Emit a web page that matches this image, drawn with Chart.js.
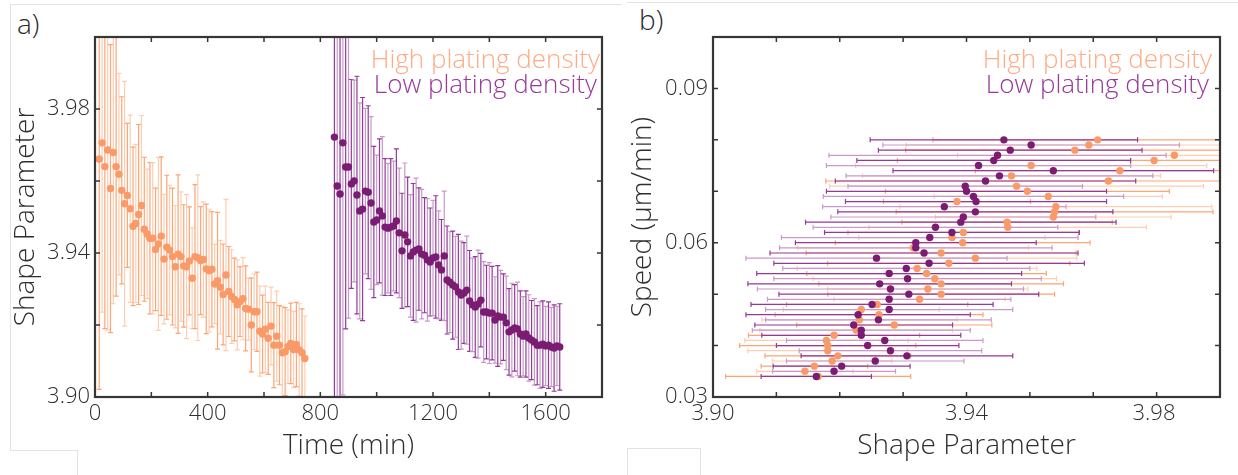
<!DOCTYPE html>
<html>
<head>
<meta charset="utf-8">
<script src="https://cdn.jsdelivr.net/npm/chart.js@4.4.1/dist/chart.umd.min.js"></script>
<style>
  body { margin: 0; width: 1238px; height: 475px; overflow: hidden; background: #fff; position: relative; }
  .edge { position: absolute; border: 0 solid #e3e3e3; box-sizing: border-box; }
  .tag { position: absolute; font: 300 28px 'Open Sans', sans-serif; line-height: 28px; color: #2b2b2b; }
  canvas { position: absolute; top: 0; }
</style>
</head>
<body>
<!-- thin page guides -->
<div class="edge" style="left:10px;top:4px;width:612px;height:447px;border-left-width:1px;border-top-width:1px"></div>
<div class="edge" style="left:10px;top:450px;width:68px;height:25px;border-top-width:1px;border-right-width:1px"></div>
<div class="edge" style="left:627px;top:2px;width:611px;height:2px;border-top-width:1px"></div>
<div class="edge" style="left:627px;top:448px;width:74px;height:27px;border-top-width:1px;border-left-width:1px;border-right-width:1px"></div>

<div class="tag" style="left:17px;top:9px">a)</div>
<div class="tag" style="left:639px;top:5px">b)</div>

<canvas id="timeChart" width="620" height="475" style="left:0"></canvas>
<canvas id="shapeChart" width="618" height="475" style="left:620px"></canvas>

<script>
/******************* panel a: shape parameter vs time *********************/
const highTime = [15,25,35,45,55,65,75,85,95,105,115,125,135,145,155,165,175,185,195,205,
  215,225,235,245,255,265,275,285,295,305,315,325,335,345,355,365,375,385,395,405,
  415,425,435,445,455,465,475,485,495,505,515,525,535,545,555,565,575,585,595,605,
  615,625,635,645,655,665,675,685,695,705,715,725,735,745];
const highShape = [3.9661,3.9706,3.9640,3.9686,3.9579,3.9679,3.9640,3.9619,3.9574,3.9537,
  3.9560,3.9523,3.9474,3.9482,3.9507,3.9532,3.9466,3.9453,3.9441,3.9441,
  3.9410,3.9425,3.9447,3.9383,3.9416,3.9408,3.9390,3.9362,3.9397,3.9390,
  3.9364,3.9362,3.9378,3.9330,3.9390,3.9387,3.9379,3.9382,3.9356,3.9351,
  3.9355,3.9314,3.9323,3.9305,3.9285,3.9339,3.9293,3.9279,3.9271,3.9256,
  3.9265,3.9273,3.9246,3.9244,3.9200,3.9237,3.9237,3.9183,3.9175,3.9188,
  3.9163,3.9197,3.9144,3.9169,3.9144,3.9123,3.9126,3.9140,3.9149,3.9132,
  3.9146,3.9131,3.9123,3.9107];
const highShapeErr = [0.064,0.047,0.045,0.050,0.040,0.042,0.036,0.028,0.026,0.034,
  0.020,0.026,0.022,0.022,0.025,0.025,0.020,0.018,0.021,0.021,
  0.017,0.024,0.022,0.018,0.020,0.018,0.019,0.017,0.022,0.018,
  0.017,0.020,0.015,0.014,0.020,0.023,0.015,0.016,0.018,0.017,
  0.016,0.011,0.019,0.013,0.014,0.021,0.0125,0.013,0.0115,0.0125,
  0.0097,0.0114,0.0118,0.0086,0.013,0.0105,0.011,0.0125,0.0108,0.012,
  0.010,0.0108,0.0118,0.0125,0.011,0.0128,0.0122,0.0102,0.0112,0.0106,
  0.0117,0.0128,0.0122,0.0118];

const lowTime = [850,860,870,880,890,900,910,920,930,940,950,960,970,980,990,1000,1010,1020,1030,1040,
  1050,1060,1070,1080,1090,1100,1110,1120,1130,1140,1150,1160,1170,1180,1190,1200,1210,1220,1230,1240,
  1250,1260,1270,1280,1290,1300,1310,1320,1330,1340,1350,1360,1370,1380,1390,1400,1410,1420,1430,1440,
  1450,1460,1470,1480,1490,1500,1510,1520,1530,1540,1550,1560,1570,1580,1590,1600,1610,1620,1630,1640,1650];
const lowShape = [3.9722,3.9586,3.9564,3.9706,3.9639,3.9639,3.9592,3.9600,3.9561,3.9517,
  3.9522,3.9572,3.9569,3.9539,3.9486,3.9492,3.9517,3.9503,3.9472,3.9469,
  3.9472,3.9475,3.9489,3.9456,3.9406,3.9450,3.9431,3.9392,3.9403,3.9408,
  3.9411,3.9397,3.9394,3.9381,3.9375,3.9386,3.9389,3.9367,3.9353,3.9392,
  3.9325,3.9319,3.9311,3.9306,3.9292,3.9283,3.9289,3.9297,3.9267,3.9256,
  3.9250,3.9258,3.9269,3.9236,3.9236,3.9233,3.9233,3.9214,3.9225,3.9222,
  3.9222,3.9206,3.9181,3.9186,3.9192,3.9189,3.9175,3.9169,3.9175,3.9164,
  3.9158,3.9153,3.9144,3.9144,3.9147,3.9142,3.9144,3.9139,3.9136,3.9142,3.9139];
const lowShapeErr = [0.090,0.080,0.085,0.070,0.045,0.042,0.029,0.028,0.033,0.030,
  0.031,0.023,0.024,0.024,0.021,0.018,0.020,0.022,0.019,0.018,
  0.019,0.018,0.020,0.018,0.016,0.020,0.018,0.017,0.019,0.020,
  0.017,0.018,0.016,0.017,0.015,0.016,0.017,0.015,0.014,0.018,
  0.015,0.014,0.015,0.014,0.016,0.015,0.014,0.015,0.014,0.013,
  0.014,0.015,0.013,0.014,0.013,0.014,0.013,0.012,0.014,0.013,
  0.012,0.013,0.012,0.013,0.012,0.013,0.012,0.011,0.012,0.012,
  0.011,0.012,0.011,0.012,0.012,0.011,0.012,0.011,0.012,0.011,0.012];

/******************* panel b: speed vs shape parameter (binned by speed) *********************/
const speedBins = [0.080,0.079,0.078,0.077,0.076,0.075,0.074,0.073,0.072,0.071,
  0.070,0.069,0.068,0.067,0.066,0.065,0.064,0.063,0.062,0.061,
  0.060,0.059,0.058,0.057,0.056,0.055,0.054,0.053,0.052,0.051,
  0.050,0.049,0.048,0.047,0.046,0.045,0.044,0.043,0.042,0.041,
  0.040,0.039,0.038,0.037,0.036,0.035,0.034];
const highBinShape = [3.9607,3.9593,3.9571,3.9728,3.9696,3.9502,3.9642,3.9471,3.9624,3.9479,
  3.9496,3.9529,3.9385,3.9541,3.9539,3.9537,3.9464,3.9465,3.9395,3.9377,
  3.9394,3.9316,3.9360,3.9414,3.9372,3.9322,3.9337,3.9350,3.9360,3.9339,
  3.9360,3.9326,3.9259,3.9234,3.9262,3.9231,3.9286,3.9226,3.9191,3.9179,
  3.9181,3.9181,3.9197,3.9188,3.9160,3.9145,3.9166];
const highBinSd = [0.0260,0.0288,0.0267,0.0342,0.0405,0.0277,0.0228,0.0235,0.0446,0.0295,
  0.0224,0.0180,0.0116,0.0246,0.0250,0.0186,0.0166,0.0219,0.0182,0.0147,
  0.0201,0.0182,0.0213,0.0160,0.0191,0.0189,0.0189,0.0192,0.0193,0.0158,
  0.0179,0.0135,0.0143,0.0123,0.0164,0.0154,0.0154,0.0152,0.0135,0.0129,
  0.0139,0.0126,0.0115,0.0094,0.0084,0.0076,0.0146];
const lowBinShape = [3.9459,3.9502,3.9469,3.9449,3.9443,3.9419,3.9537,3.9452,3.9430,3.9398,
  3.9400,3.9411,3.9415,3.9365,3.9414,3.9395,3.9391,3.9351,3.9377,3.9342,
  3.9320,3.9320,3.9333,3.9258,3.9341,3.9305,3.9278,3.9307,3.9263,3.9280,
  3.9309,3.9278,3.9251,3.9278,3.9229,3.9261,3.9222,3.9234,3.9234,3.9271,
  3.9244,3.9280,3.9306,3.9256,3.9203,3.9191,3.9163];
const lowBinSd = [0.0211,0.0234,0.0208,0.0266,0.0216,0.0240,0.0253,0.0242,0.0237,0.0185,
  0.0221,0.0237,0.0206,0.0192,0.0217,0.0209,0.0245,0.0193,0.0201,0.0234,
  0.0190,0.0215,0.0243,0.0206,0.0245,0.0195,0.0209,0.0211,0.0208,0.0210,
  0.0205,0.0192,0.0191,0.0195,0.0177,0.0178,0.0156,0.0172,0.0157,0.0155,
  0.0144,0.0144,0.0167,0.0140,0.0108,0.0097,0.0087];

/******************* colours & fonts *********************/
const HIGH = { point: '#f99a68', bars: ['#fca575', '#fecdb2'], text: '#ffab85' };
const LOW  = { point: '#7a1d72', bars: ['#94399a', '#c79ac9'], text: '#97399a' };
const FONT = "'Open Sans', sans-serif";
const INK = '#2e2e2e';

/******************* plugins *********************/
// error bars drawn under the points, clipped to the plot box
const errorBars = {
  id: 'errorBars',
  beforeDatasetsDraw(chart) {
    const { ctx, chartArea: a } = chart;
    const xs = chart.scales.x, ys = chart.scales.y;
    const cap = 2.5;
    ctx.save();
    ctx.beginPath();
    ctx.rect(a.left, a.top, a.right - a.left, a.bottom - a.top);
    ctx.clip();
    ctx.lineWidth = 1.2;
    const metas = chart.getSortedVisibleDatasetMetas().slice().reverse();
    metas.forEach(meta => {
      const ds = chart.data.datasets[meta.index];
      ds.data.forEach((p, i) => {
        const e = ds.errors[i];
        ctx.strokeStyle = ds.barColors[i % 2];
        ctx.beginPath();
        if (ds.errorAxis === 'y') {
          const x = xs.getPixelForValue(p.x);
          const t = ys.getPixelForValue(p.y + e), b = ys.getPixelForValue(p.y - e);
          ctx.moveTo(x, t); ctx.lineTo(x, b);
          ctx.moveTo(x - cap, t); ctx.lineTo(x + cap, t);
          ctx.moveTo(x - cap, b); ctx.lineTo(x + cap, b);
        } else {
          const y = ys.getPixelForValue(p.y);
          const l = xs.getPixelForValue(p.x - e), r = xs.getPixelForValue(p.x + e);
          ctx.moveTo(l, y); ctx.lineTo(r, y);
          ctx.moveTo(l, y - cap); ctx.lineTo(l, y + cap);
          ctx.moveTo(r, y - cap); ctx.lineTo(r, y + cap);
        }
        ctx.stroke();
      });
    });
    ctx.restore();
  }
};

// closed box with inward ticks on all four sides
const frameTicks = {
  id: 'frameTicks',
  afterDatasetsDraw(chart) {
    const { ctx, chartArea: a, scales } = chart;
    const len = 5;
    ctx.save();
    ctx.strokeStyle = '#363636';
    ctx.lineWidth = 1.5;
    ctx.beginPath();
    scales.x.ticks.forEach(t => {
      const x = scales.x.getPixelForValue(t.value);
      ctx.moveTo(x, a.bottom); ctx.lineTo(x, a.bottom - len);
      ctx.moveTo(x, a.top); ctx.lineTo(x, a.top + len);
    });
    scales.y.ticks.forEach(t => {
      const y = scales.y.getPixelForValue(t.value);
      ctx.moveTo(a.left, y); ctx.lineTo(a.left + len, y);
      ctx.moveTo(a.right, y); ctx.lineTo(a.right - len, y);
    });
    ctx.stroke();
    ctx.lineWidth = 2.2;
    ctx.strokeRect(a.left, a.top, a.right - a.left, a.bottom - a.top);
    ctx.restore();
  }
};

// two coloured lines of text in the top right corner of the box
const cornerLegend = {
  id: 'cornerLegend',
  afterDraw(chart, args, opts) {
    const { ctx, chartArea: a } = chart;
    ctx.save();
    ctx.font = '300 26px ' + FONT;
    ctx.textAlign = 'right';
    ctx.textBaseline = 'middle';
    const items = chart.data.datasets.slice().sort((p, q) => p.legendRank - q.legendRank);
    items.forEach((ds, k) => {
      ctx.fillStyle = ds.legendColor;
      ctx.fillText(ds.label, a.right - opts.inset - k * 3, a.top + 24 + k * 25);
    });
    ctx.restore();
  }
};

/******************* shared helpers *********************/
const toPoints = (xs, ys) => xs.map((x, i) => ({ x: x, y: ys[i] }));

function fixBox(size) {
  return scale => {
    if (scale.isHorizontal()) scale.height = size; else scale.width = size;
    scale.paddingLeft = 0; scale.paddingRight = 0;
    scale.paddingTop = 0; scale.paddingBottom = 0;
  };
}

const tickFont = { family: FONT, size: 22, weight: '300' };
const titleFont = { family: FONT, size: 28, weight: '300' };

function baseOptions() {
  return {
    responsive: false,
    animation: false,
    layout: { padding: { top: 37, right: 18, left: 0, bottom: 0 } },
    plugins: { legend: { display: false }, tooltip: { enabled: false } },
    elements: { point: { radius: 3.7, borderWidth: 0, hoverRadius: 3.7 } }
  };
}

/******************* chart a *********************/
const optsA = baseOptions();
optsA.plugins.cornerLegend = { inset: 2 };
optsA.scales = {
  x: {
    type: 'linear', min: 0, max: 1800,
    afterFit: fixBox(78),
    grid: { display: false, drawTicks: false },
    border: { display: false },
    ticks: { stepSize: 200, autoSkip: false, maxRotation: 0, minRotation: 0, padding: 4,
      color: INK, font: tickFont,
      callback: v => (v % 400 === 0 ? String(v) : '') },
    title: { display: true, text: 'Time (min)', color: INK, font: titleFont, padding: { top: 0, bottom: 12 } }
  },
  y: {
    type: 'linear', min: 3.90, max: 4.00,
    afterFit: fixBox(95),
    grid: { display: false, drawTicks: false },
    border: { display: false },
    ticks: { stepSize: 0.02, autoSkip: false, padding: 5, color: INK, font: tickFont,
      callback: v => (Math.round(v * 100) % 4 === 2 ? v.toFixed(2) : '') },
    title: { display: true, text: 'Shape Parameter', color: INK, font: titleFont, padding: { top: 9, bottom: 0 } }
  }
};

new Chart(document.getElementById('timeChart'), {
  type: 'scatter',
  data: {
    datasets: [
      { label: 'Low plating density', data: toPoints(lowTime, lowShape), errors: lowShapeErr,
        errorAxis: 'y', barColors: LOW.bars, backgroundColor: LOW.point, legendColor: LOW.text,
        legendRank: 1, order: 0 },
      { label: 'High plating density', data: toPoints(highTime, highShape), errors: highShapeErr,
        errorAxis: 'y', barColors: HIGH.bars, backgroundColor: HIGH.point, legendColor: HIGH.text,
        legendRank: 0, order: 1 }
    ]
  },
  options: optsA,
  plugins: [errorBars, frameTicks, cornerLegend]
});

/******************* chart b *********************/
const optsB = baseOptions();
optsB.plugins.cornerLegend = { inset: 8 };
optsB.scales = {
  x: {
    type: 'linear', min: 3.90, max: 3.98,
    afterFit: fixBox(78),
    grid: { display: false, drawTicks: false },
    border: { display: false },
    ticks: { stepSize: 0.01, autoSkip: false, maxRotation: 0, minRotation: 0, padding: 4,
      color: INK, font: tickFont,
      callback: (v, i, all) => {
        if (Math.round(v * 100) % 4 !== 2) return '';
        // last label nudged inward so it stays inside the panel
        return i === all.length - 1 ? v.toFixed(2) + '\u2003'.repeat(6) : v.toFixed(2);
      } },
    title: { display: true, text: 'Shape Parameter', color: INK, font: titleFont, padding: { top: 0, bottom: 12 } }
  },
  y: {
    type: 'linear', min: 0.03, max: 0.10,
    afterFit: fixBox(93),
    grid: { display: false, drawTicks: false },
    border: { display: false },
    ticks: { stepSize: 0.01, autoSkip: false, padding: 5, color: INK, font: tickFont,
      callback: v => (Math.round(v * 100) % 3 === 0 ? v.toFixed(2) : '') },
    title: { display: true, text: 'Speed (\u03bcm/min)', color: INK, font: titleFont, padding: { top: 6, bottom: 0 } }
  }
};

new Chart(document.getElementById('shapeChart'), {
  type: 'scatter',
  data: {
    datasets: [
      { label: 'Low plating density', data: toPoints(lowBinShape, speedBins), errors: lowBinSd,
        errorAxis: 'x', barColors: LOW.bars, backgroundColor: LOW.point, legendColor: LOW.text,
        legendRank: 1, order: 0 },
      { label: 'High plating density', data: toPoints(highBinShape, speedBins), errors: highBinSd,
        errorAxis: 'x', barColors: HIGH.bars, backgroundColor: HIGH.point, legendColor: HIGH.text,
        legendRank: 0, order: 1 }
    ]
  },
  options: optsB,
  plugins: [errorBars, frameTicks, cornerLegend]
});
</script>
</body>
</html>
